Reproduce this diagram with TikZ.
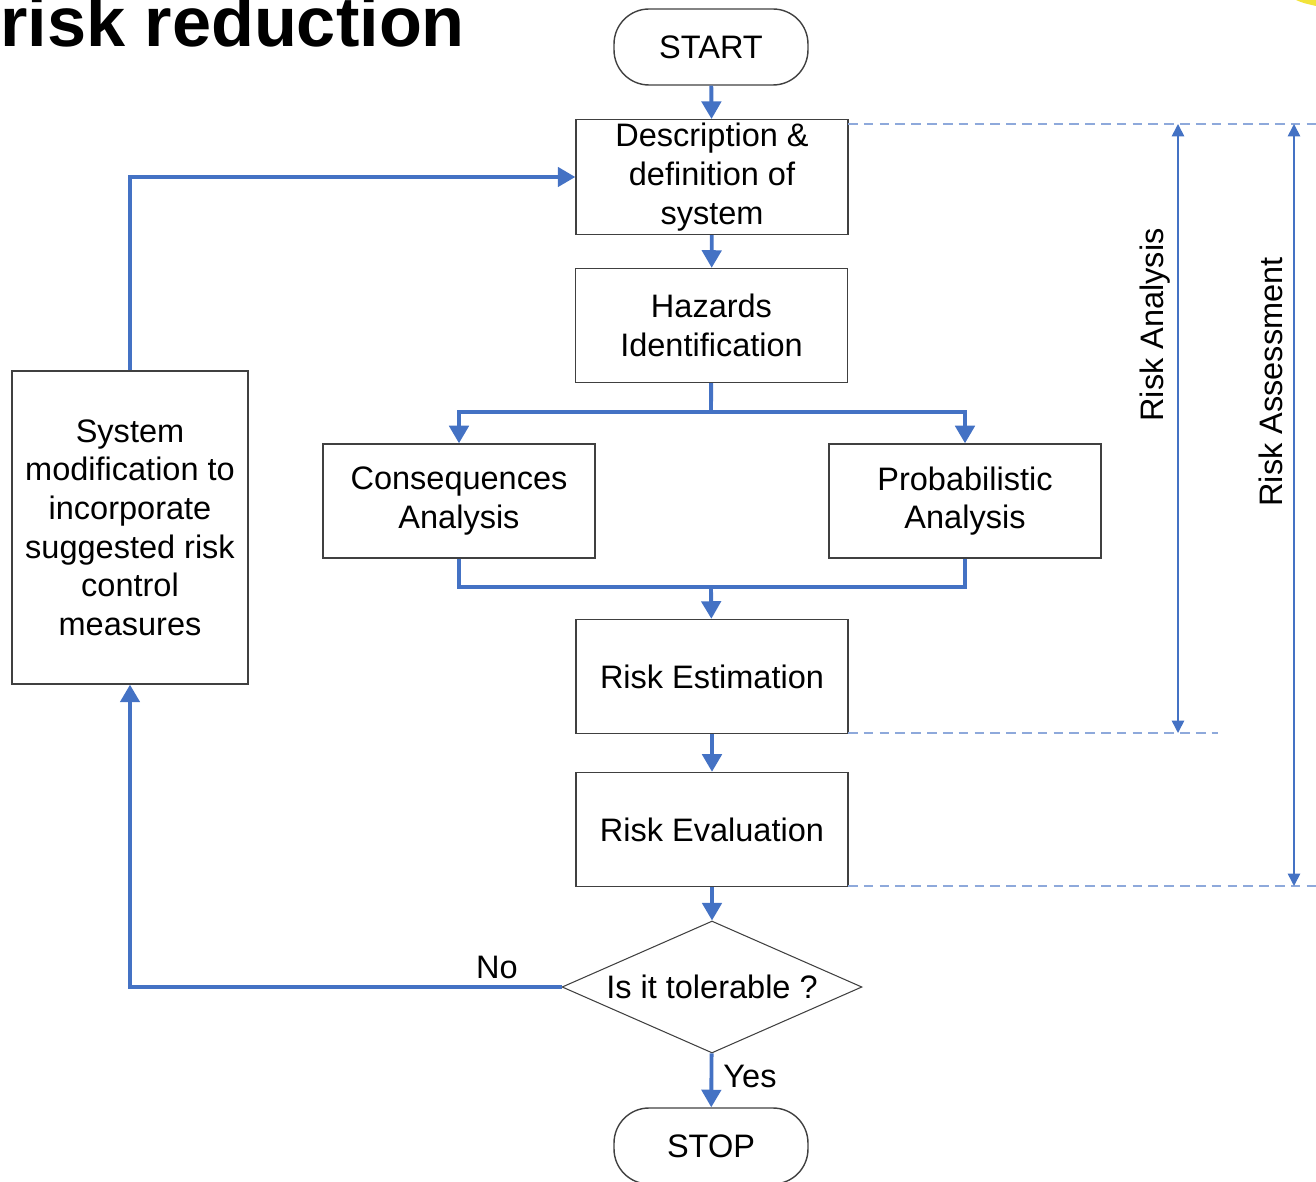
\documentclass[tikz,border=0pt]{standalone}
\usepackage{fontspec}
\setmainfont{Liberation Sans}
\usetikzlibrary{arrows.meta,shapes.geometric}

\begin{document}
\begin{tikzpicture}[x=0.02cm,y=-0.02cm,
  font=\fontsize{18.5}{22}\selectfont,
  box/.style={draw=boxGray, line width=0.8pt, minimum width=5.44cm, minimum height=2.28cm, align=center, inner sep=2pt},
  terminal/.style={draw=boxGray, line width=0.8pt, rounded corners=0.7cm, minimum width=3.88cm, minimum height=1.52cm},
  decision/.style={draw=boxGray, line width=0.6pt, diamond, aspect=2.27, minimum width=6cm, minimum height=2.64cm, inner sep=0pt},
  flow/.style={draw=flowBlue, line width=2.2pt, -{Triangle[width=11pt,length=10pt]}},
  link/.style={draw=flowBlue, line width=2.2pt},
  span/.style={draw=flowBlue, line width=0.9pt, {Triangle[width=7pt,length=7pt]}-{Triangle[width=7pt,length=7pt]}},
  guide/.style={draw=guideBlue, line width=1.2pt, dash pattern=on 5.5pt off 3.5pt}]

% Colours
\definecolor{boxGray}{HTML}{404040}
\definecolor{flowBlue}{HTML}{4472C4}
\definecolor{guideBlue}{HTML}{8EA9DB}
\definecolor{sunYellow}{HTML}{F2E33A}

\useasboundingbox (0,0) rectangle (1316,1182);

% Title (cut at the page edge)
\node[anchor=base west, font=\fontsize{40}{44}\selectfont\bfseries] (title) at (-6,47) {risk reduction};

% Corner blob
\fill[sunYellow] (1296,0) .. controls (1303,3) .. (1316,6) -- (1316,0) -- cycle;

% Main column
\node[terminal] (start) at (711,47) {START};
\node[box] (desc) at (712,177) {Description \&\\definition of\\system};
\node[box] (haz) at (711.5,325.5) {Hazards\\Identification};
\node[box] (cons) at (459,501) {Consequences\\Analysis};
\node[box] (prob) at (965,501) {Probabilistic\\Analysis};
\node[box] (est) at (712,676.5) {Risk Estimation};
\node[box] (eval) at (712,829.5) {Risk Evaluation};
\node[decision] (tol) at (712,987) {Is it tolerable ?};
\node[terminal] (stop) at (711,1146) {STOP};

% Feedback box
\node[box, minimum width=4.72cm, minimum height=6.26cm] (sys) at (130,527.5)
  {System\\modification to\\incorporate\\suggested risk\\control\\measures};

% Flow arrows
\draw[flow] (start) -- (desc);
\draw[flow] (desc) -- (haz);
\coordinate (split) at (711,412);
\draw[link] (haz) -- (split);
\draw[flow] (split) -| (cons);
\draw[flow] (split) -| (prob);
\coordinate (merge) at (711,587);
\draw[link] (cons) |- (merge) -| (prob);
\draw[flow] (merge) -- (est);
\draw[flow] (est) -- (eval);
\draw[flow] (eval) -- (tol);
\draw[flow] (tol) -- (stop);
\draw[flow] (tol) -| (sys);
\draw[flow] (sys) |- (desc);

% Answers
\node (no) at (497,967) {No};
\node (yes) at (750,1076) {Yes};

% Guide lines
\draw[guide] (848,124) -- (1316,124);
\draw[guide] (848,733) -- (1218,733);
\draw[guide] (848,886) -- (1316,886);

% Spans
\coordinate (anaTop) at (1178,124);
\coordinate (anaBot) at (1178,733);
\coordinate (assTop) at (1294,124);
\coordinate (assBot) at (1294,886);
\draw[span] (anaTop) -- (anaBot);
\draw[span] (assTop) -- (assBot);
\node[rotate=90] (ana) at (1155,325) {Risk Analysis};
\node[rotate=90] (ass) at (1271,382) {Risk Assessment};

\end{tikzpicture}
\end{document}
